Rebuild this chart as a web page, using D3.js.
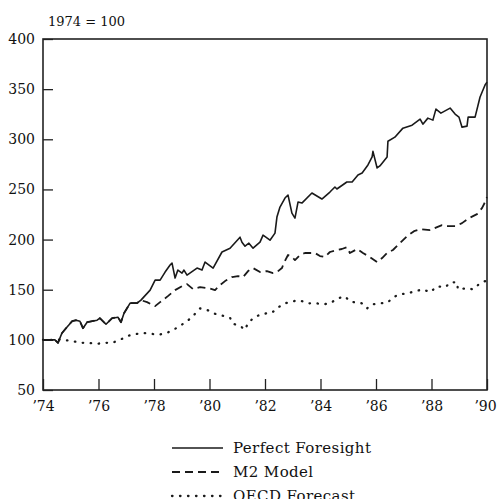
<!DOCTYPE html>
<html>
<head>
<meta charset="utf-8">
<script src="https://cdn.jsdelivr.net/npm/d3@7"></script>
<style>
  body { margin: 0; background: #fff; }
  svg { display: block; }
  text { font-family: "DejaVu Serif", "Liberation Serif", serif; fill: #111; }
</style>
</head>
<body>
<svg id="chart" width="497" height="499"></svg>
<script>
// index values, 1974 = 100
const pfYears = [1974.00, 1974.25, 1974.43, 1974.54, 1974.68, 1974.86, 1975.05, 1975.19, 1975.33, 1975.44,
    1975.59, 1975.77, 1975.95, 1976.05, 1976.27, 1976.49, 1976.70, 1976.81, 1976.92, 1977.14,
    1977.39, 1977.53, 1977.86, 1978.04, 1978.22, 1978.40, 1978.58, 1978.65, 1978.76, 1978.86,
    1979.01, 1979.08, 1979.19, 1979.55, 1979.73, 1979.84, 1980.13, 1980.45, 1980.74, 1981.10,
    1981.17, 1981.28, 1981.42, 1981.57, 1981.82, 1981.93, 1982.18, 1982.36, 1982.43, 1982.54,
    1982.72, 1982.83, 1982.97, 1983.08, 1983.19, 1983.33, 1983.69, 1984.05, 1984.34, 1984.52,
    1984.59, 1984.95, 1985.14, 1985.35, 1985.50, 1985.71, 1985.86, 1985.89, 1986.04, 1986.14,
    1986.40, 1986.43, 1986.68, 1986.97, 1987.30, 1987.59, 1987.69, 1987.87, 1988.05, 1988.16,
    1988.34, 1988.67, 1988.85, 1988.99, 1989.10, 1989.28, 1989.32, 1989.57, 1989.75, 1989.93, 1990.00];
const pfValues = [100, 100, 100, 97, 106.6, 112.6, 118.6, 119.6, 118.6, 111.6,
    117.6, 118.6, 119.6, 121.6, 115.6, 121.6, 122.6, 117.6, 126.6, 136.6,
    136.6, 139.6, 149.6, 159.6, 159.6, 167.6, 174.6, 176.6, 161.6, 169.6,
    166.6, 169.6, 164.6, 171.6, 169.6, 177.6, 171.6, 187.6, 191.4, 202.4,
    197.4, 193.4, 196.4, 191.4, 197.4, 204.4, 199.4, 206.4, 222.4, 232.4,
    241.4, 244.4, 226.4, 221.4, 237.4, 236.4, 246.4, 240.4, 247.4, 252.4,
    250.4, 257.4, 257.4, 264.4, 266.4, 274.4, 282.4, 288, 271.4, 273.4,
    282.4, 298.1, 302.1, 311.1, 314.1, 320.1, 315.1, 321.1, 319.1, 330.1,
    326.1, 331.1, 325.1, 322.1, 312.1, 313.1, 322.1, 322.1, 342.1, 354.1, 357];

// M2 runs under the solid line until mid-1977
const m2Years = [1974.00, 1974.25, 1974.43, 1974.54, 1974.68, 1974.86, 1975.05, 1975.19, 1975.33, 1975.44,
    1975.59, 1975.77, 1975.95, 1976.05, 1976.27, 1976.49, 1976.70, 1976.81, 1976.92, 1977.14,
    1977.39, 1977.53, 1977.75, 1978.04,
    1978.22, 1978.50, 1978.76, 1979.01, 1979.19, 1979.41, 1979.66, 1979.95, 1980.20, 1980.38,
    1980.56, 1980.81, 1981.03, 1981.21, 1981.39, 1981.57, 1981.82, 1982.07, 1982.29, 1982.43,
    1982.61, 1982.68, 1982.83, 1982.97, 1983.08, 1983.26, 1983.44, 1983.80, 1983.98, 1984.16,
    1984.34, 1984.59, 1984.77, 1984.95, 1985.06, 1985.32, 1985.53, 1985.78, 1986.04, 1986.22,
    1986.40, 1986.61, 1986.86, 1987.12, 1987.37, 1987.62, 1987.95, 1988.20, 1988.38, 1988.59,
    1988.88, 1989.10, 1989.35, 1989.64, 1989.82, 1989.93, 1990.00];
const m2Values = [100, 100, 100, 97, 106.6, 112.6, 118.6, 119.6, 118.6, 111.6,
    117.6, 118.6, 119.6, 121.6, 115.6, 121.6, 122.6, 117.6, 126.6, 136.6,
    136.6, 139.6, 137.6, 133.6,
    137.6, 143.6, 149.6, 153.6, 155.6, 150.6, 152.6, 151.6, 149.6, 154.6,
    158.6, 162.6, 163.6, 162.6, 168.6, 171.6, 167.6, 168.6, 166.6, 167.6,
    171.6, 176.6, 184.6, 182.6, 179.6, 184.6, 186.6, 186.6, 183.6, 182.6,
    187.6, 189.6, 190.6, 192.4, 186.6, 190.6, 186.6, 182.6, 177.6, 181.6,
    186.6, 189.6, 196.4, 203.4, 208.4, 210.4, 209.4, 212.4, 214.4, 213.4,
    213.4, 216.4, 221.4, 225.4, 231.4, 237.4, 242.4];

const oecdYears = [1974.00, 1974.36, 1974.72, 1975.05, 1975.33, 1975.62, 1975.95, 1976.16, 1976.49, 1976.77,
    1977.06, 1977.39, 1977.60, 1977.93, 1978.14, 1978.47, 1978.76, 1979.05, 1979.30, 1979.48,
    1979.66, 1979.95, 1980.20, 1980.49, 1980.74, 1980.85, 1981.10, 1981.28, 1981.39, 1981.64,
    1981.93, 1982.25, 1982.47, 1982.72, 1982.97, 1983.26, 1983.55, 1983.87, 1984.09, 1984.34,
    1984.63, 1984.88, 1985.06, 1985.24, 1985.50, 1985.68, 1985.86, 1986.14, 1986.43, 1986.61,
    1986.86, 1987.12, 1987.41, 1987.69, 1987.95, 1988.20, 1988.49, 1988.70, 1988.92, 1988.95,
    1989.28, 1989.50, 1989.75, 1989.97];
const oecdValues = [100, 100, 100, 99, 97, 97, 96, 97, 97, 100,
    104, 106, 107, 106, 105, 107, 111, 116, 121, 126,
    131.4, 129.4, 126, 124, 122, 116, 114, 110, 117, 123,
    126, 127, 132.4, 136.4, 138.4, 139.4, 136.4, 136.4, 135.4, 136.4,
    141.4, 143.4, 138.4, 137.4, 136.4, 131.4, 135.4, 136.4, 137.4, 142.4,
    145.4, 146.4, 148.4, 150.4, 147.4, 153.4, 152.4, 157.4, 157.4, 150.4,
    151.4, 150.4, 156.4, 159];

const yTicks = [50, 100, 150, 200, 250, 300, 350, 400];
const xTicks = [1974, 1976, 1978, 1980, 1982, 1984, 1986, 1988, 1990];
const xTickLabels = ['’74', '’76', '’78', '’80', '’82', '’84', '’86', '’88', '’90'];
const seriesNames = ['Perfect Foresight', 'M2 Model', 'OECD Forecast'];

const svg = d3.select('#chart');
const plotLeft = 43, plotRight = 487, plotTop = 39, plotBottom = 390;

const x = d3.scaleLinear().domain([1974, 1990]).range([plotLeft, plotRight]);
const y = d3.scaleLinear().domain([50, 400]).range([plotBottom, plotTop]);

// axes, ticks pointing inward
svg.append('g')
    .attr('transform', `translate(${plotLeft},0)`)
    .call(d3.axisLeft(y).tickValues(yTicks).tickSize(-10).tickPadding(8))
    .call(g => g.select('.domain').remove())
    .call(g => g.selectAll('.tick line').attr('stroke', '#222').attr('stroke-width', 1.3))
    .call(g => g.selectAll('.tick text').attr('font-size', 14).attr('font-family', 'DejaVu Serif'));

svg.append('g')
    .attr('transform', `translate(0,${plotBottom})`)
    .call(d3.axisBottom(x).tickValues(xTicks).tickFormat((d, i) => xTickLabels[i]).tickSize(-11).tickPadding(11))
    .call(g => g.select('.domain').remove())
    .call(g => g.selectAll('.tick line').attr('stroke', '#222').attr('stroke-width', 1.3))
    .call(g => g.selectAll('.tick text').attr('font-size', 14).attr('font-family', 'DejaVu Serif'))
    .call(g => g.selectAll('.tick text').filter(d => d === 1990).attr('dx', -2));

svg.append('rect')
    .attr('x', plotLeft).attr('y', plotTop)
    .attr('width', plotRight - plotLeft).attr('height', plotBottom - plotTop)
    .attr('fill', 'none').attr('stroke', '#222').attr('stroke-width', 1.6);

svg.append('text')
    .attr('x', 48).attr('y', 26)
    .attr('font-size', 13)
    .text('1974 = 100');

const styles = [
    { dash: null, width: 1.6, cap: 'butt' },
    { dash: '8,5', width: 1.8, cap: 'butt' },
    { dash: '0.5,7.5', width: 2.3, cap: 'round' }
];
const series = [
    pfYears.map((t, i) => [t, pfValues[i]]),
    m2Years.map((t, i) => [t, m2Values[i]]),
    oecdYears.map((t, i) => [t, oecdValues[i]])
];

const line = d3.line().x(d => x(d[0])).y(d => y(d[1]));

svg.append('g')
    .selectAll('path')
    .data(series)
    .enter()
    .append('path')
    .attr('d', line)
    .attr('fill', 'none')
    .attr('stroke', '#1a1a1a')
    .attr('stroke-width', (d, i) => styles[i].width)
    .attr('stroke-dasharray', (d, i) => styles[i].dash)
    .attr('stroke-linecap', (d, i) => styles[i].cap)
    .attr('stroke-linejoin', 'round');

// legend
const legend = svg.append('g')
    .selectAll('g')
    .data(seriesNames)
    .enter()
    .append('g')
    .attr('transform', (d, i) => `translate(172,${448 + i * 24})`);

legend.append('line')
    .attr('x1', 0).attr('x2', 51)
    .attr('stroke', '#1a1a1a')
    .attr('stroke-width', (d, i) => styles[i].width)
    .attr('stroke-dasharray', (d, i) => styles[i].dash)
    .attr('stroke-linecap', (d, i) => styles[i].cap);

legend.append('text')
    .attr('x', 61).attr('y', 5)
    .attr('font-size', 15)
    .attr('letter-spacing', 0.4)
    .text(d => d);
</script>
</body>
</html>
